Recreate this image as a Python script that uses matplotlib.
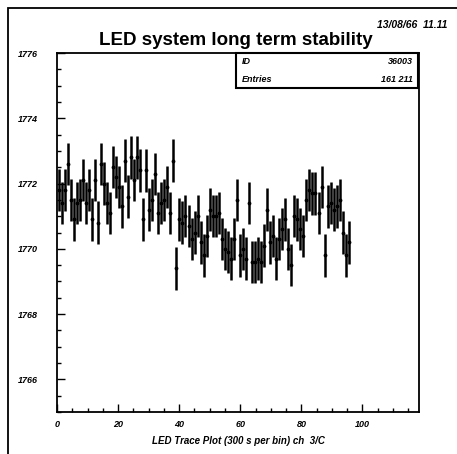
import numpy as np
import matplotlib.pyplot as plt
from matplotlib.patches import Rectangle
from matplotlib.ticker import MultipleLocator

plt.rcParams['font.family'] = ['Liberation Sans', 'DejaVu Sans']

# ------------------------------------
# Data (bin contents, 300 s per bin)
# ------------------------------------
values = [
    1771.8, 1771.4, 1771.8, 1772.6, 1771.5, 1770.9, 1771.4, 1771.5, 1772.1, 1771.4,
    1771.8, 1770.9, 1772.1, 1770.8, 1772.6, 1772.0, 1771.4, 1771.1, 1772.5, 1772.2,
    1771.9, 1771.3, 1772.7, 1771.6, 1772.8, 1772.1, 1772.8, 1772.4, 1770.9, 1772.4,
    1771.2, 1771.5, 1772.3, 1771.1, 1771.4, 1771.5, 1771.9, 1771.1, 1772.7, 1769.4,
    1770.9, 1770.8, 1771.0, 1770.7, 1770.3, 1770.5, 1771.0, 1770.2, 1769.8, 1770.4,
    1771.2, 1771.0, 1771.0, 1771.1, 1770.3, 1770.0, 1769.9, 1769.7, 1770.3, 1771.5,
    1769.8, 1770.0, 1769.7, 1771.4, 1769.6, 1769.6, 1769.7, 1769.6, 1770.1, 1771.2,
    1770.2, 1770.4, 1769.7, 1770.3, 1770.6, 1770.9, 1770.0, 1769.5, 1771.0, 1770.9,
    1770.6, 1770.4, 1771.5, 1771.8, 1771.7, 1771.7, 1771.1, 1771.9, 1769.8, 1771.3,
    1771.4, 1771.2, 1771.3, 1771.5, 1770.5, 1769.8, 1770.2,
]
errors = [0.65] * len(values)
bins = np.linspace(0.5, 95.5, len(values))

x_ticks = [0, 20, 40, 60, 80, 100]
y_ticks = [1766, 1768, 1770, 1772, 1774, 1776]

# ------------------------------------
# Figure
# ------------------------------------
fig = plt.figure(figsize=(4.57, 4.54), dpi=100)
ax = fig.add_axes([57/457, 1 - 412/454, (419-57)/457, (412-53)/454])

ax.errorbar(bins, values, yerr=errors, fmt='.', color='black',
            markersize=3.5, elinewidth=1.8, capsize=0)

ax.set_xlim(0, 118.5)
ax.set_ylim(1765, 1776)
ax.set_xticks(x_ticks)
ax.set_yticks(y_ticks)
ax.xaxis.set_minor_locator(MultipleLocator(5))
ax.yaxis.set_minor_locator(MultipleLocator(0.5))
ax.tick_params(which='both', direction='in', top=False, right=False,
               labelsize=6.5, width=1)
ax.tick_params(which='major', length=6)
ax.tick_params(which='minor', length=3)
for lab in ax.get_xticklabels() + ax.get_yticklabels():
    lab.set_fontweight('bold')
    lab.set_fontstyle('italic')
ax.tick_params(axis='y', pad=14)
ax.tick_params(axis='x', pad=6)
for s in ax.spines.values():
    s.set_linewidth(1.3)

ax.set_xlabel("LED Trace Plot (300 s per bin) ch  3/C", fontsize=7,
              fontweight='bold', fontstyle='italic', labelpad=5)

fig.text(0.515, 0.91, "LED system long term stability", ha='center',
         va='center', fontsize=13.5, fontweight='bold')
fig.text(0.978, 0.945, "13/08/66  11.11", ha='right', va='center',
         fontsize=7.5, fontweight='bold', fontstyle='italic')

# stats box
box_l, box_r = 236/457, 418/457
box_t, box_b = 1 - 53/454, 1 - 88/454
fig.patches.append(Rectangle((box_l, box_b), box_r - box_l, box_t - box_b,
                             transform=fig.transFigure, fill=True,
                             facecolor='white', edgecolor='black', lw=1.5))
fig.text(box_l + 0.012, 1 - 61/454, "ID", fontsize=6.5, fontweight='bold',
         fontstyle='italic', va='center')
fig.text(box_r - 0.012, 1 - 61/454, "36003", fontsize=6.5, fontweight='bold',
         fontstyle='italic', va='center', ha='right')
fig.text(box_l + 0.012, 1 - 79/454, "Entries", fontsize=6.5, fontweight='bold',
         fontstyle='italic', va='center')
fig.text(box_r - 0.012, 1 - 79/454, "161 211", fontsize=6.5, fontweight='bold',
         fontstyle='italic', va='center', ha='right')

# outer frame
fig.patches.append(Rectangle((8/457, -0.1), 1.2, 1 - 8/454 + 0.1,
                             transform=fig.transFigure, fill=False,
                             edgecolor='black', lw=1.3))

fig.savefig("out.png", dpi=100)
